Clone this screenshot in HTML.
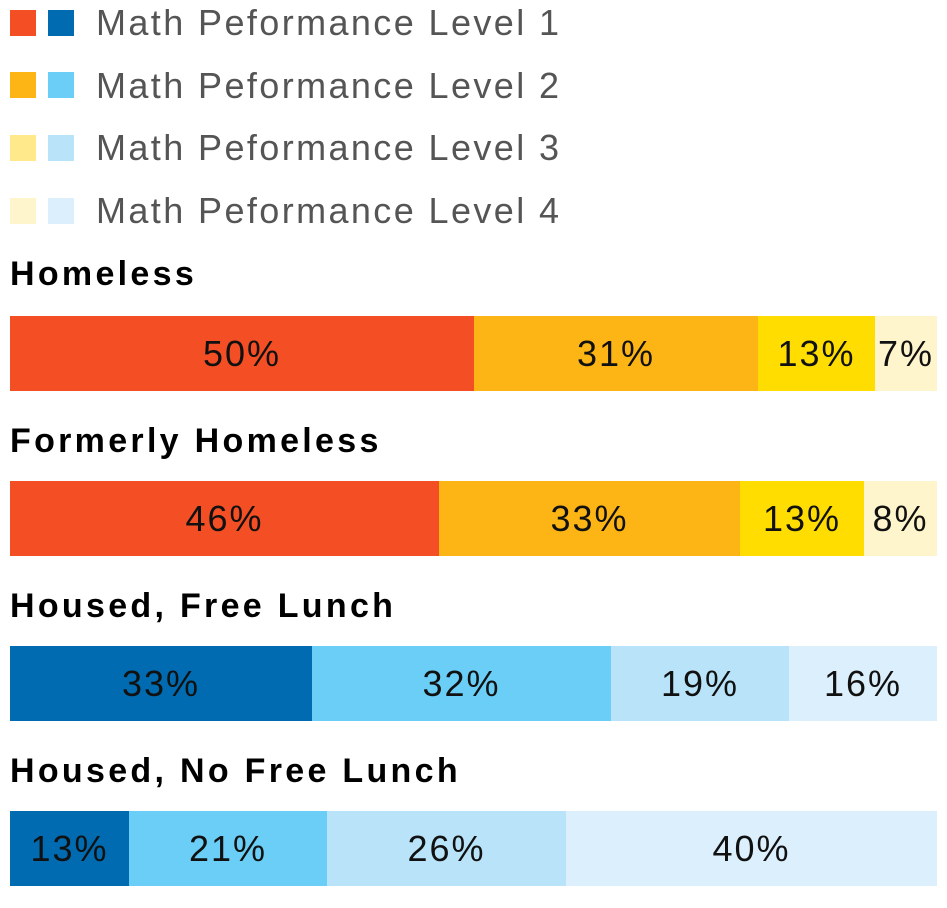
<!DOCTYPE html>
<html><head><style>
body{margin:0;width:947px;height:908px;background:#fff;font-family:"Liberation Sans",sans-serif;position:relative;overflow:hidden}
.sq{position:absolute;width:26px;height:26px}
.lt{position:absolute;left:96px;font-size:36px;color:#555;letter-spacing:2.4px;line-height:1}
.t{position:absolute;left:10px;font-size:34px;font-weight:bold;color:#000;line-height:1;letter-spacing:3.3px}
.bar{position:absolute;left:10px;width:927px;height:75px;display:flex}
.bar div{height:100%;display:flex;align-items:center;justify-content:center;font-size:36px;color:#111;letter-spacing:2px}
</style></head><body>
<div class="sq" style="left:10px;top:10px;background:#F44E24"></div><div class="sq" style="left:48px;top:10px;background:#006BB0"></div>
<div class="sq" style="left:10px;top:72px;background:#FDB515"></div><div class="sq" style="left:48px;top:72px;background:#6ACEF6"></div>
<div class="sq" style="left:10px;top:135px;background:#FFE98A"></div><div class="sq" style="left:48px;top:135px;background:#B8E3F8"></div>
<div class="sq" style="left:10px;top:198px;background:#FFF5CC"></div><div class="sq" style="left:48px;top:198px;background:#DCEFFC"></div>
<div class="lt" style="top:5px">Math Peformance Level 1</div>
<div class="lt" style="top:68px">Math Peformance Level 2</div>
<div class="lt" style="top:130px">Math Peformance Level 3</div>
<div class="lt" style="top:193px">Math Peformance Level 4</div>

<div class="t" style="top:257px">Homeless</div>
<div class="bar" style="top:316px"><div style="width:464px;background:#F44E24">50%</div><div style="width:284px;background:#FDB515">31%</div><div style="width:117px;background:#FFDD00">13%</div><div style="width:62px;background:#FFF5CC">7%</div></div>
<div class="t" style="top:424px">Formerly Homeless</div>
<div class="bar" style="top:481px"><div style="width:429px;background:#F44E24">46%</div><div style="width:301px;background:#FDB515">33%</div><div style="width:124px;background:#FFDD00">13%</div><div style="width:73px;background:#FFF5CC">8%</div></div>
<div class="t" style="top:589px">Housed, Free Lunch</div>
<div class="bar" style="top:646px"><div style="width:302px;background:#006BB0">33%</div><div style="width:299px;background:#6ACEF6">32%</div><div style="width:178px;background:#B8E3F8">19%</div><div style="width:148px;background:#DCEFFC">16%</div></div>
<div class="t" style="top:754px">Housed, No Free Lunch</div>
<div class="bar" style="top:811px"><div style="width:119px;background:#006BB0">13%</div><div style="width:198px;background:#6ACEF6">21%</div><div style="width:239px;background:#B8E3F8">26%</div><div style="width:371px;background:#DCEFFC">40%</div></div>
</body></html>
